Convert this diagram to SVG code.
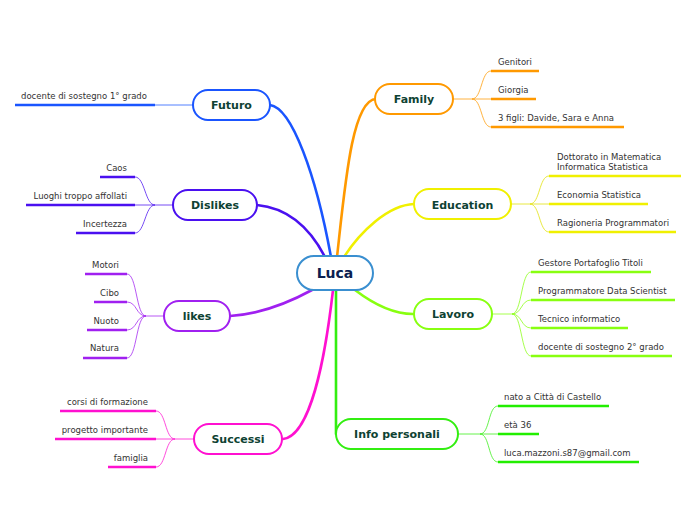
<svg xmlns="http://www.w3.org/2000/svg" width="696" height="520" viewBox="0 0 696 520">
<style>
.node{fill:#fff;stroke-width:2}
.nt{font-family:"DejaVu Sans",Verdana,sans-serif;font-weight:bold;font-size:11px;fill:#0e4233;text-anchor:middle}
.lt{font-family:"DejaVu Sans",Verdana,sans-serif;font-size:8.5px;fill:#333}
.r{text-anchor:end}
.main{fill:none;stroke-width:2.6;stroke-linecap:round}
.thin{fill:none;stroke-width:1;opacity:0.75}
.leaf{stroke-width:2.6;fill:none}
</style>
<rect width="696" height="520" fill="#fff"/>
<g id="connectors">
<path class="main" stroke="#1a55ff" d="M270,105 C292,108 316,175 331,257"/>
<path class="main" stroke="#ff9900" d="M337,257 C345,185 352,100 376,99"/>
<path class="main" stroke="#4a10f0" d="M257,205 C288,208 310,228 325,257"/>
<path class="main" stroke="#f0f000" d="M344,257 C360,232 388,205 414,204"/>
<path class="main" stroke="#a020f0" d="M230,316 C262,314 290,302 312,290"/>
<path class="main" stroke="#88ff10" d="M355,290 C376,306 394,314 413,314"/>
<path class="main" stroke="#33ee11" d="M336,290 L336,434"/>
<path class="main" stroke="#ff10d0" d="M333,290 C325,360 310,436 283,439"/>
<!-- Futuro -->
<path class="thin" stroke="#1a55ff" d="M193,105 L155,105"/>
<!-- Dislikes -->
<path class="thin" stroke="#4a10f0" d="M173,205 L155,205 C145,205 145,177 135,177 M155,205 L135,205 M155,205 C145,205 145,233 135,233"/>
<!-- likes -->
<path class="thin" stroke="#a020f0" d="M164,316 L146,316 C136,316 137,274 127,274 M146,316 C136,316 137,302 127,302 M146,316 C136,316 137,330 127,330 M146,316 C136,316 137,358 127,358"/>
<!-- Successi -->
<path class="thin" stroke="#ff10d0" d="M194,439 L175,439 C165,439 166,411 156,411 M175,439 L156,439 M175,439 C165,439 166,467 156,467"/>
<!-- Family -->
<path class="thin" stroke="#ff9900" d="M453,99 L472,99 C482,99 481,71 491,71 M472,99 L491,99 M472,99 C482,99 481,127 491,127"/>
<!-- Education -->
<path class="thin" stroke="#e0e000" d="M511,204 L530,204 C540,204 539,176 549,176 M530,204 L549,204 M530,204 C540,204 539,232 549,232"/>
<!-- Lavoro -->
<path class="thin" stroke="#88ff10" d="M492,314 L512,314 C522,314 521,272 531,272 M512,314 C522,314 521,300 531,300 M512,314 C522,314 521,328 531,328 M512,314 C522,314 521,356 531,356"/>
<!-- Info personali -->
<path class="thin" stroke="#33ee11" d="M458,434 L480,434 C490,434 488,406 498,406 M480,434 L498,434 M480,434 C490,434 488,462 498,462"/>
</g>
<g id="luca">
<rect class="node" x="297" y="256" width="76" height="34" rx="17" stroke="#3a8fd0"/>
<text x="335" y="278" font-family="DejaVu Sans,Verdana,sans-serif" font-weight="bold" font-size="14" fill="#0a2050" text-anchor="middle">Luca</text>
</g>
<g id="futuro">
<rect class="node" x="193" y="90" width="77" height="30" rx="15" stroke="#1a55ff"/>
<text class="nt" x="231.5" y="109">Futuro</text>
<line class="leaf" x1="15" y1="105" x2="155" y2="105" stroke="#1a55ff"/>
<text class="lt" x="21" y="99">docente di sostegno 1° grado</text>
</g>
<g id="dislikes">
<rect class="node" x="173" y="190" width="84" height="30" rx="15" stroke="#4a10f0"/>
<text class="nt" x="215" y="209">Dislikes</text>
<line class="leaf" x1="100" y1="177" x2="135" y2="177" stroke="#4a10f0"/>
<line class="leaf" x1="26" y1="205" x2="135" y2="205" stroke="#4a10f0"/>
<line class="leaf" x1="76" y1="233" x2="135" y2="233" stroke="#4a10f0"/>
<text class="lt r" x="127" y="171">Caos</text>
<text class="lt r" x="127" y="199">Luoghi troppo affollati</text>
<text class="lt r" x="127" y="227">Incertezza</text>
</g>
<g id="likes">
<rect class="node" x="164" y="301" width="66" height="30" rx="15" stroke="#a020f0"/>
<text class="nt" x="197" y="320">likes</text>
<line class="leaf" x1="85" y1="274" x2="127" y2="274" stroke="#a020f0"/>
<line class="leaf" x1="94" y1="302" x2="127" y2="302" stroke="#a020f0"/>
<line class="leaf" x1="87" y1="330" x2="127" y2="330" stroke="#a020f0"/>
<line class="leaf" x1="83" y1="358" x2="127" y2="358" stroke="#a020f0"/>
<text class="lt r" x="119" y="268">Motori</text>
<text class="lt r" x="119" y="296">Cibo</text>
<text class="lt r" x="119" y="324">Nuoto</text>
<text class="lt r" x="119" y="351">Natura</text>
</g>
<g id="successi">
<rect class="node" x="194" y="424" width="88" height="30" rx="15" stroke="#ff10d0"/>
<text class="nt" x="238" y="443">Successi</text>
<line class="leaf" x1="60" y1="411" x2="156" y2="411" stroke="#ff10d0"/>
<line class="leaf" x1="55" y1="439" x2="156" y2="439" stroke="#ff10d0"/>
<line class="leaf" x1="108" y1="467" x2="156" y2="467" stroke="#ff10d0"/>
<text class="lt r" x="148" y="405">corsi di formazione</text>
<text class="lt r" x="148" y="433">progetto importante</text>
<text class="lt r" x="148" y="461">famiglia</text>
</g>
<g id="family">
<rect class="node" x="375" y="84" width="78" height="30" rx="15" stroke="#ff9900"/>
<text class="nt" x="414" y="103">Family</text>
<line class="leaf" x1="491" y1="71" x2="539" y2="71" stroke="#ff9900"/>
<line class="leaf" x1="491" y1="99" x2="536" y2="99" stroke="#ff9900"/>
<line class="leaf" x1="491" y1="127" x2="624" y2="127" stroke="#ff9900"/>
<text class="lt" x="498" y="65">Genitori</text>
<text class="lt" x="498" y="93">Giorgia</text>
<text class="lt" x="498" y="121">3 figli: Davide, Sara e Anna</text>
</g>
<g id="education">
<rect class="node" x="414" y="189" width="97" height="30" rx="15" stroke="#f0f000"/>
<text class="nt" x="462.5" y="209">Education</text>
<line class="leaf" x1="549" y1="176" x2="681" y2="176" stroke="#f0f000"/>
<line class="leaf" x1="549" y1="204" x2="648" y2="204" stroke="#f0f000"/>
<line class="leaf" x1="549" y1="232" x2="676" y2="232" stroke="#f0f000"/>
<text class="lt" x="557" y="160">Dottorato in Matematica</text>
<text class="lt" x="557" y="170">Informatica Statistica</text>
<text class="lt" x="557" y="198">Economia Statistica</text>
<text class="lt" x="557" y="226">Ragioneria Programmatori</text>
</g>
<g id="lavoro">
<rect class="node" x="414" y="299" width="78" height="30" rx="15" stroke="#88ff10"/>
<text class="nt" x="453" y="318">Lavoro</text>
<line class="leaf" x1="531" y1="272" x2="651" y2="272" stroke="#88ff10"/>
<line class="leaf" x1="531" y1="300" x2="675" y2="300" stroke="#88ff10"/>
<line class="leaf" x1="531" y1="328" x2="628" y2="328" stroke="#88ff10"/>
<line class="leaf" x1="531" y1="356" x2="672" y2="356" stroke="#88ff10"/>
<text class="lt" x="538" y="266">Gestore Portafoglio Titoli</text>
<text class="lt" x="538" y="294">Programmatore Data Scientist</text>
<text class="lt" x="538" y="322">Tecnico informatico</text>
<text class="lt" x="538" y="350">docente di sostegno 2° grado</text>
</g>
<g id="info">
<rect class="node" x="336" y="419" width="122" height="30" rx="15" stroke="#33ee11"/>
<text class="nt" x="397" y="438">Info personali</text>
<line class="leaf" x1="498" y1="406" x2="609" y2="406" stroke="#22ee00"/>
<line class="leaf" x1="498" y1="434" x2="539" y2="434" stroke="#22ee00"/>
<line class="leaf" x1="498" y1="462" x2="639" y2="462" stroke="#22ee00"/>
<text class="lt" x="504" y="400">nato a Città di Castello</text>
<text class="lt" x="504" y="428">età 36</text>
<text class="lt" x="504" y="456">luca.mazzoni.s87@gmail.com</text>
</g>
</svg>
